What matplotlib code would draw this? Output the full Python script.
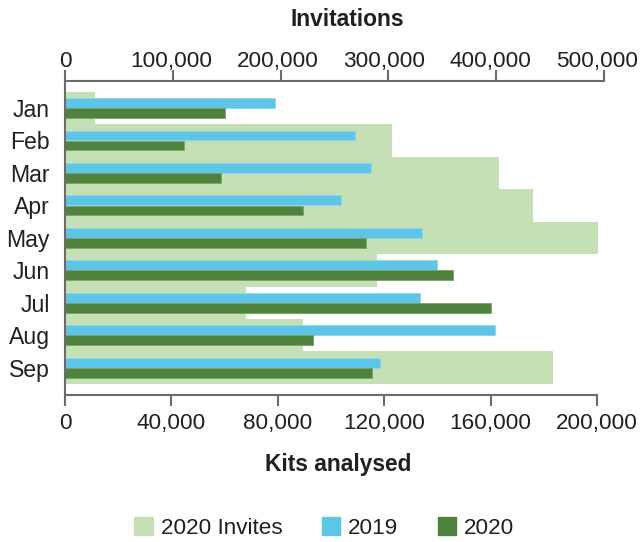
import matplotlib
matplotlib.use("Agg")
import matplotlib.pyplot as plt
from matplotlib.patches import Patch
import numpy as np

plt.rcParams['font.family'] = ['Liberation Sans', 'DejaVu Sans']

months = ["Jan", "Feb", "Mar", "Apr", "May", "Jun", "Jul", "Aug", "Sep"]
invites_2020 = [27600, 303000, 402500, 434000, 494000, 289000, 167500, 221000, 453000]
kits_2019 = [79000, 109200, 115200, 103800, 134200, 139900, 133300, 161800, 118300]
kits_2020 = [60000, 44600, 58700, 89600, 113300, 145700, 160100, 93100, 115600]

bottom_ticks = [0, 40000, 80000, 120000, 160000, 200000]
top_ticks = [0, 100000, 200000, 300000, 400000, 500000]

c_light = "#c6e0b5"
c_blue = "#5dc5e6"
c_dark = "#4f823c"
c_spine = "#6b6b6b"
c_text = "#231f20"
FS = 16.2
FS_LABEL = 16.4

fig = plt.figure(figsize=(6.4, 5.42), dpi=100)
W, H = 640, 542
left_px, right_px, top_px, bot_px = 65, 597, 81, 395
right2_px = 604
ax_h = (bot_px - top_px)

ax2 = fig.add_axes([left_px / W, 1 - bot_px / H, (right2_px - left_px) / W, ax_h / H])
ax = fig.add_axes([left_px / W, 1 - bot_px / H, (right_px - left_px) / W, ax_h / H])
ax.patch.set_alpha(0)
ax2.set_zorder(0)
ax.set_zorder(1)

y = np.arange(len(months))
ylim = (len(months) - 1 + 0.5 + 0.34, -0.5 - 0.33)

# Invitations (top axis): bars and tick marks
ax2.barh(y, invites_2020, height=1.0, color=c_light, edgecolor="none")
ax2.set_xlim(0, 500000)
ax2.set_ylim(*ylim)
ax2.xaxis.tick_top()
ax2.set_xticks(top_ticks)
ax2.set_xticklabels([])
ax2.set_yticks([])
for s in ["left", "right", "bottom"]:
    ax2.spines[s].set_visible(False)
ax2.spines["top"].set_color(c_spine)
ax2.spines["top"].set_linewidth(1.5)
ax2.tick_params(axis="x", direction="out", length=8, width=1.5, color=c_spine)

# top tick labels and axis title
ax3 = ax.twiny()
ax3.set_xlim(0, 500000)
ax3.set_xticks(top_ticks)
ax3.set_xticklabels([f"{v:,}" for v in top_ticks], fontsize=FS, color=c_text)
ax3.tick_params(axis="x", length=0, pad=6.5)
for s in ax3.spines.values():
    s.set_visible(False)
ax3.set_xlabel("Invitations", fontsize=FS_LABEL, fontweight="bold", color=c_text)
ax3.xaxis.set_label_coords(0.530, (bot_px - 26) / ax_h)

# Kits analysed (bottom axis)
h = 0.3
ax.barh(y - 0.155, kits_2019, height=h, color=c_blue, edgecolor="#8fd6ee", linewidth=0.6)
ax.barh(y + 0.155, kits_2020, height=h, color=c_dark, edgecolor="#7aa36a", linewidth=0.6)
ax.set_xlim(0, 200000)
ax.set_ylim(*ylim)
ax.set_xticks(bottom_ticks)
ax.set_xticklabels([f"{v:,}" for v in bottom_ticks], fontsize=FS, color=c_text)
ax.set_yticks(y)
ax.set_yticklabels(months, fontsize=FS + 0.4, color=c_text)
ax.tick_params(axis="y", length=0, pad=11)
ax.tick_params(axis="x", direction="out", length=8, width=1.5, color=c_spine, pad=5)
ax.set_xlabel("Kits analysed", fontsize=FS_LABEL, fontweight="bold", color=c_text)
ax.xaxis.set_label_coords(0.514, (bot_px - 453) / ax_h)
for s in ["right", "top"]:
    ax.spines[s].set_visible(False)
for s in ["left", "bottom"]:
    ax.spines[s].set_color(c_spine)
    ax.spines[s].set_linewidth(1.5)

handles = [Patch(color=c_light, label="2020 Invites"),
           Patch(color=c_blue, label="2019"),
           Patch(color=c_dark, label="2020")]
fig.legend(handles=handles, loc="center", bbox_to_anchor=(0.507, 1 - 528 / H), ncol=3,
           frameon=False, fontsize=FS, handlelength=0.82, handleheight=0.82,
           handletextpad=0.35, columnspacing=1.75, labelcolor=c_text)

fig.savefig("out.png", dpi=100)
